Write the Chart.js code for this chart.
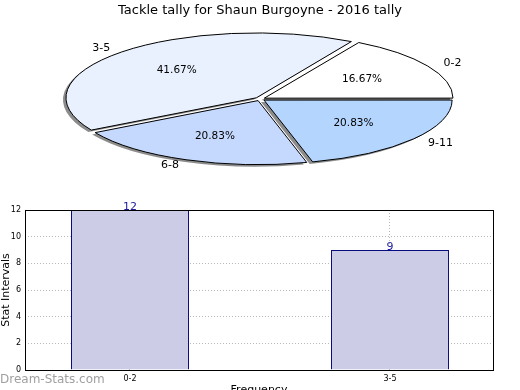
<!DOCTYPE html>
<html>
<head>
<meta charset="utf-8">
<script src="https://cdn.jsdelivr.net/npm/chart.js@4.4.1/dist/chart.umd.min.js"></script>
<style>
  body { margin: 0; width: 520px; height: 390px; overflow: hidden; background: #fff; position: relative; }
  #pie { position: absolute; left: 0; top: 0; }
  #bars { position: absolute; left: 0; top: 195px; }
  #mark { position: absolute; left: 0; top: 372px; font: 12px "DejaVu Sans", sans-serif; color: #a0a0a0; }
</style>
</head>
<body>
<canvas id="pie" width="520" height="200"></canvas>
<canvas id="bars" width="520" height="210"></canvas>
<div id="mark">Dream-Stats.com</div>
<script>
// pie: tackle tally per interval (games)
const pieLabels = ['0-2', '3-5', '6-8', '9-11']
const pieValues = [4, 10, 5, 5]
const pieColors = ['#ffffff', '#eaf1fe', '#c5d8fd', '#b3d5fe']

// bar chart below
const barLabels = ['0-2', '3-5']
const barValues = [12, 9]
const yTicks = [0, 2, 4, 6, 8, 10, 12]

const squash = 64 / 188   // pie is drawn flattened like the original
const font = '"DejaVu Sans", sans-serif'

// matplotlib starts at 3 o'clock and goes anticlockwise, chart.js goes clockwise
const rev = (a) => a.slice().reverse()

const flatPie = {
    id: 'flatPie',
    beforeDatasetsDraw(chart) {
        const ctx = chart.ctx
        const arc = chart.getDatasetMeta(0).data[0]
        const base = ctx.getTransform()
        ctx.save()
        ctx.translate(arc.x, arc.y)
        ctx.scale(1, squash)
        ctx.translate(-arc.x, -arc.y)
        ctx.shadowColor = 'rgba(0,0,0,0.45)'
        ctx.shadowOffsetX = -3
        ctx.shadowOffsetY = 2
        // keep the edge lines 1px thick all round
        ctx.stroke = function () {
            this.save()
            this.setTransform(base)
            this.shadowColor = 'rgba(0,0,0,0)'
            CanvasRenderingContext2D.prototype.stroke.call(this)
            this.restore()
        }
    },
    afterDatasetsDraw(chart) {
        const ctx = chart.ctx
        delete ctx.stroke
        ctx.restore()
    },
    afterDraw(chart) {
        const ctx = chart.ctx
        const meta = chart.getDatasetMeta(0)
        const ds = chart.data.datasets[0]
        const total = ds.data.reduce((a, b) => a + b, 0)
        ctx.save()
        ctx.fillStyle = '#000'
        ctx.textBaseline = 'middle'
        meta.data.forEach((arc, i) => {
            const mid = (arc.startAngle + arc.endAngle) / 2
            const r = arc.outerRadius
            const off = ds.offset / 4
            const cx = arc.x + Math.cos(mid) * off
            const cy = arc.y + Math.sin(mid) * off * squash
            const c = Math.cos(mid), s = Math.sin(mid)
            ctx.font = '11px ' + font
            ctx.textAlign = c > 0 ? 'left' : 'right'
            ctx.fillText(chart.data.labels[i], cx + 1.1 * r * c, cy + 1.1 * r * s * squash)
            ctx.textAlign = 'center'
            ctx.font = '10.5px ' + font
            const pct = (ds.data[i] / total * 100).toFixed(2) + '%'
            ctx.fillText(pct, cx + 0.6 * r * c, cy + 0.6 * r * s * squash)
        })
        ctx.restore()
    }
}

new Chart(document.getElementById('pie'), {
    type: 'pie',
    data: {
        labels: rev(pieLabels),
        datasets: [{
            data: rev(pieValues),
            backgroundColor: rev(pieColors),
            borderColor: '#000',
            borderWidth: 1,
            offset: 20,
            clip: false
        }]
    },
    options: {
        responsive: false,
        animation: false,
        rotation: 90,
        radius: 188,
        layout: { padding: { top: 0, bottom: 20.6 } },
        events: [],
        plugins: {
            legend: { display: false },
            tooltip: { enabled: false },
            title: {
                display: true,
                text: 'Tackle tally for Shaun Burgoyne - 2016 tally',
                color: '#000',
                font: { family: font, size: 13, weight: 'normal' },
                padding: { top: 3, bottom: 0 }
            }
        }
    },
    plugins: [flatPie]
})

const boxAndValues = {
    id: 'boxAndValues',
    afterDraw(chart) {
        const ctx = chart.ctx
        const a = chart.chartArea
        ctx.save()
        ctx.strokeStyle = '#000'
        ctx.lineWidth = 1
        ctx.strokeRect(Math.round(a.left) + 0.5, Math.round(a.top) + 0.5, Math.round(a.right - a.left), Math.round(a.bottom - a.top))
        ctx.fillStyle = '#1c1c9c'
        ctx.font = '11px ' + font
        ctx.textAlign = 'center'
        ctx.textBaseline = 'bottom'
        chart.getDatasetMeta(0).data.forEach((bar, i) => {
            ctx.fillText(barValues[i], bar.x, bar.y + 3)
        })
        ctx.restore()
    }
}

const grid = { color: '#b8b8b8', lineWidth: 1, drawTicks: false, offset: false }
const dotted = { display: false, dash: [1, 2] }

new Chart(document.getElementById('bars'), {
    type: 'bar',
    data: {
        datasets: [{
            data: barValues.map((v, i) => ({ x: i, y: v })),
            backgroundColor: '#ccccE6',
            borderColor: '#0a0a80',
            borderWidth: 1,
            barPercentage: 0.4538,
            categoryPercentage: 1
        }]
    },
    options: {
        responsive: false,
        animation: false,
        events: [],
        layout: { padding: { top: 15, right: 27, bottom: 6, left: 0 } },
        plugins: { legend: { display: false }, tooltip: { enabled: false } },
        scales: {
            x: {
                type: 'linear',
                offset: false,
                min: -0.4038,
                max: 1.3962,
                grid: grid,
                border: dotted,
                afterBuildTicks: (s) => { s.ticks = barLabels.map((l, i) => ({ value: i })) },
                afterFit: (s) => { s.height = 29 },
                ticks: {
                    color: '#000',
                    font: { family: font, size: 8 },
                    padding: 4,
                    maxRotation: 0,
                    callback: (v) => barLabels[v]
                },
                title: {
                    display: true,
                    text: 'Frequency',
                    color: '#000',
                    font: { family: font, size: 11 },
                    padding: { top: 0, bottom: 2 }
                }
            },
            y: {
                min: 0,
                max: 12,
                grid: grid,
                border: dotted,
                afterBuildTicks: (s) => { s.ticks = yTicks.map((v) => ({ value: v })) },
                afterFit: (s) => { s.width = 25 },
                ticks: { color: '#000', font: { family: font, size: 8 }, padding: 4 },
                title: {
                    display: true,
                    text: 'Stat Intervals',
                    color: '#000',
                    font: { family: font, size: 11 },
                    padding: 0
                }
            }
        }
    },
    plugins: [boxAndValues]
})
</script>
</body>
</html>
